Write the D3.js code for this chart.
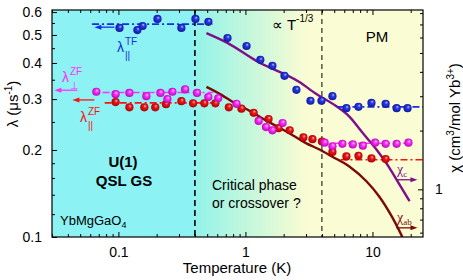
<!DOCTYPE html>
<html>
<head>
<meta charset="utf-8">
<script src="https://cdn.jsdelivr.net/npm/d3@7"></script>
<style>
  body { margin: 0; background: #fff; }
  svg { display: block; font-family: "Liberation Sans", Arial, sans-serif; }
</style>
</head>
<body>
<div id="chart"></div>
<script>
// data: [T (K), value]
let tfPar = [[0.102,0.529],[0.141,0.520],[0.155,0.537],[0.203,0.568],[0.313,0.529],[0.404,0.568],
	[0.511,0.555],[0.722,0.488],[1.02,0.458],[1.31,0.410],[1.63,0.391],[2.03,0.361],[2.52,0.323],
	[3.25,0.296],[3.97,0.296],[4.84,0.307],[6.24,0.279],[7.76,0.282],[9.82,0.291],[12.7,0.289],
	[15.5,0.279],[18.9,0.279]];
let zfPerp = [[0.067,0.318],[0.095,0.312],[0.122,0.315],[0.166,0.307],[0.214,0.315],[0.243,0.300],
	[0.266,0.318],[0.335,0.324],[0.416,0.315],[0.510,0.305],[0.610,0.302],[0.85,0.289],
	[1.27,0.252],[1.45,0.240],[1.63,0.234],[1.96,0.248],[4.2,0.212],[4.84,0.206],[5.8,0.210],
	[7.0,0.209],[8.4,0.207],[10.5,0.212],[12.7,0.210],[15.5,0.210],[19.2,0.212]];
let zfPar = [[0.095,0.293],[0.122,0.281],[0.160,0.281],[0.195,0.281],[0.237,0.288],[0.313,0.295],
	[0.387,0.290],[0.475,0.290],[0.580,0.290],[0.740,0.281],[0.93,0.278],[1.16,0.269],
	[1.52,0.256],[1.82,0.238],[2.23,0.234],[2.86,0.221],[3.37,0.218],[4.0,0.214],[4.84,0.197],
	[6.24,0.190],[7.76,0.191],[9.82,0.187],[12.7,0.186]];

// chi(T) curves, right axis
let chiC = [[0.493,6.32],[0.721,5.63],[1.22,4.55],[2.66,3.55],[3.62,3.08],[4.84,2.75],
	[6.58,2.36],[8.36,1.95],[10.75,1.60],[13.6,1.29],[16.3,1.06],[19.6,0.87]];
let chiAb = [[0.493,3.35],[0.647,3.05],[0.79,2.81],[1.075,2.53],[1.46,2.25],[2.10,1.98],[3.02,1.72],
	[3.83,1.60],[4.84,1.47],[6.58,1.31],[8.96,1.10],[11.3,0.92],[14.3,0.72],[17.2,0.57]];

// plateau guide lines: [T start, T end, lambda]
let tfLowLine = [0.062, 0.55, 0.545];
let tfHighLine = [5.3, 25, 0.282];
let perpLowLine = [0.075, 0.56, 0.316];
let perpHighLine = [4.9, 20.5, 0.211];
let parLowLine = [0.078, 0.56, 0.291];
let parHighLine = [5.6, 25, 0.185];

let boundaries = [0.4, 4];
let xMajor = [0.1, 1, 10];
let xMinor = [0.03,0.04,0.05,0.06,0.07,0.08,0.09,0.2,0.3,0.4,0.5,0.6,0.7,0.8,0.9,2,3,4,5,6,7,8,9,20];
let yMajor = [0.1, 0.2, 0.3, 0.4, 0.5, 0.6];
let yMinor = [0.12, 0.14, 0.16, 0.18, 0.25, 0.35, 0.45, 0.55];
let rMajor = [1];
let rMinor = [0.6,0.7,0.8,0.9,2,3,4,5,6,7,8];

let margin = { top: 10, right: 40, bottom: 43, left: 52 };
let width = 463 - margin.left - margin.right;
let height = 280 - margin.top - margin.bottom;

let svg = d3.select("#chart").append("svg")
	.attr("width", 463)
	.attr("height", 280);

let defs = svg.append("defs");

let x = d3.scaleLog().domain([0.03, 25]).range([0, width]);
let y = d3.scaleLog().domain([0.1, 0.61]).range([height, 0]);
let yR = d3.scaleLog().domain([0.57, 8.3]).range([height, 0]);

let g = svg.append("g").attr("transform", "translate(" + margin.left + "," + margin.top + ")");

defs.append("clipPath").attr("id", "clip")
	.append("rect").attr("width", width).attr("height", height);

// background: cyan ground state, gradient through the crossover, pale yellow PM
let grad = defs.append("linearGradient").attr("id", "bgGrad")
	.attr("gradientUnits", "userSpaceOnUse")
	.attr("x1", x(0.4)).attr("x2", x(3.0)).attr("y1", 0).attr("y2", 0);
grad.append("stop").attr("offset", 0).attr("stop-color", "#92f3ea");
grad.append("stop").attr("offset", 0.5).attr("stop-color", "#c6f7dc");
grad.append("stop").attr("offset", 1).attr("stop-color", "#fafcd3");

g.append("rect").attr("x", 0).attr("y", 0)
	.attr("width", x(0.4)).attr("height", height).attr("fill", "#8cf2f4");
g.append("rect").attr("x", x(0.4)).attr("y", 0)
	.attr("width", width - x(0.4)).attr("height", height).attr("fill", "url(#bgGrad)");

// sphere gradients
function ballGrad(id, light, mid, dark) {
	let rg = defs.append("radialGradient").attr("id", id)
		.attr("cx", 0.5).attr("cy", 0.5).attr("r", 0.55)
		.attr("fx", 0.62).attr("fy", 0.32);
	rg.append("stop").attr("offset", 0).attr("stop-color", light);
	rg.append("stop").attr("offset", 0.35).attr("stop-color", mid);
	rg.append("stop").attr("offset", 1).attr("stop-color", dark);
}
ballGrad("ballBlue", "#b8c0ff", "#2a3ae8", "#0b1490");
ballGrad("ballMag", "#ffd0ff", "#ff33ff", "#b000b0");
ballGrad("ballRed", "#ffc0c0", "#f01818", "#a00000");

let plot = g.append("g").attr("clip-path", "url(#clip)");

// vertical boundaries
plot.append("line")
	.attr("x1", x(boundaries[0])).attr("x2", x(boundaries[0]))
	.attr("y1", 0).attr("y2", height)
	.attr("stroke", "#000").attr("stroke-width", 1.6).attr("stroke-dasharray", "6,4");
plot.append("line")
	.attr("x1", x(boundaries[1])).attr("x2", x(boundaries[1]))
	.attr("y1", 0).attr("y2", height)
	.attr("stroke", "#000").attr("stroke-width", 1).attr("stroke-dasharray", "5,4");

// chi curves
let chiLine = d3.line().x(d => x(d[0])).y(d => yR(d[1])).curve(d3.curveMonotoneX);
plot.append("path").datum(chiAb)
	.attr("d", chiLine).attr("fill", "none")
	.attr("stroke", "#7a0a0a").attr("stroke-width", 2.4);
plot.append("path").datum(chiC)
	.attr("d", chiLine).attr("fill", "none")
	.attr("stroke", "#7d1088").attr("stroke-width", 2.4);

// plateau dash-dot lines
function plateau(p, color) {
	plot.append("line")
		.attr("x1", x(p[0])).attr("x2", x(p[1]))
		.attr("y1", y(p[2])).attr("y2", y(p[2]))
		.attr("stroke", color).attr("stroke-width", 1.6)
		.attr("stroke-dasharray", "7,3,2,3");
}
plateau(tfLowLine, "#1530e0");
plateau(tfHighLine, "#1530e0");
plateau(perpLowLine, "#ff30ff");
plateau(perpHighLine, "#ff30ff");
plateau(parLowLine, "#ff1010");
plateau(parHighLine, "#ff1010");

// points
function balls(data, id) {
	plot.append("g").selectAll("circle")
		.data(data)
		.enter()
		.append("circle")
		.attr("cx", d => x(d[0]))
		.attr("cy", d => y(d[1]))
		.attr("r", 4.1)
		.attr("fill", "url(#" + id + ")");
}
balls(zfPar, "ballRed");
balls(zfPerp, "ballMag");
balls(tfPar, "ballBlue");

// arrows showing which axis a series belongs to
function arrow(x1, x2, yy, color) {
	let dir = x2 > x1 ? 1 : -1;
	g.append("line")
		.attr("x1", x1).attr("x2", x2 - dir * 5)
		.attr("y1", yy).attr("y2", yy)
		.attr("stroke", color).attr("stroke-width", 1.3);
	g.append("path")
		.attr("d", "M" + x2 + "," + yy + "L" + (x2 - dir * 7) + "," + (yy - 2.5) + "L" + (x2 - dir * 7) + "," + (yy + 2.5) + "Z")
		.attr("fill", color);
}
arrow(x(0.093), x(0.0647), y(0.532), "#1530e0");
arrow(x(0.0474), x(0.0313), y(0.322), "#ff30ff");
arrow(x(0.0647), x(0.0434), y(0.298), "#ff1010");
arrow(x(15.4), x(22.6), yR(1.12), "#7d1088");
arrow(x(15.4), x(22.6), yR(0.635), "#7a0a0a");

// axes
g.append("rect").attr("width", width).attr("height", height)
	.attr("fill", "none").attr("stroke", "#000").attr("stroke-width", 1.2);

function tickAxis(axis, tr) {
	let a = g.append("g").attr("transform", tr).call(axis);
	a.select(".domain").remove();
	a.selectAll("line").attr("stroke", "#000").attr("stroke-width", 1);
	a.selectAll("text").attr("font-size", 14).attr("fill", "#000")
		.attr("font-family", "Liberation Sans, Arial, sans-serif");
	return a;
}
let fmt = d => d3.format("~g")(d);
tickAxis(d3.axisBottom(x).tickValues(xMajor).tickSizeInner(-5).tickPadding(10).tickFormat(fmt), "translate(0," + height + ")");
tickAxis(d3.axisBottom(x).tickValues(xMinor).tickSizeInner(-3).tickFormat(""), "translate(0," + height + ")");
tickAxis(d3.axisTop(x).tickValues(xMajor).tickSizeInner(-5).tickFormat(""), "translate(0,0)");
tickAxis(d3.axisTop(x).tickValues(xMinor).tickSizeInner(-3).tickFormat(""), "translate(0,0)");
tickAxis(d3.axisLeft(y).tickValues(yMajor).tickSizeInner(-5).tickPadding(10).tickFormat(fmt), "translate(0,0)");
tickAxis(d3.axisLeft(y).tickValues(yMinor).tickSizeInner(-3).tickFormat(""), "translate(0,0)");
tickAxis(d3.axisRight(yR).tickValues(rMajor).tickSizeInner(-5).tickPadding(12).tickFormat(fmt), "translate(" + width + ",0)");
tickAxis(d3.axisRight(yR).tickValues(rMinor).tickSizeInner(-3).tickFormat(""), "translate(" + width + ",0)");

// axis titles
svg.append("text")
	.attr("x", 237).attr("y", 273)
	.attr("text-anchor", "middle").attr("font-size", 15)
	.text("Temperature (K)");

let yl = svg.append("text")
	.attr("transform", "translate(18,104) rotate(-90)")
	.attr("text-anchor", "middle").attr("font-size", 15);
yl.append("tspan").text("λ (μs");
yl.append("tspan").attr("dy", -6).attr("font-size", 10).text("-1");
yl.append("tspan").attr("dy", 6).text(")");

let rl = svg.append("text")
	.attr("transform", "translate(460,118) rotate(-90)")
	.attr("text-anchor", "middle").attr("font-size", 15);
rl.append("tspan").text("χ (cm");
rl.append("tspan").attr("dy", -6).attr("font-size", 10).text("3");
rl.append("tspan").attr("dy", 6).text("/mol Yb");
rl.append("tspan").attr("dy", -6).attr("font-size", 10).text("3+");
rl.append("tspan").attr("dy", 6).text(")");

// series labels
function lamLabel(lx, ly, sup, sub, color) {
	svg.append("text").attr("x", lx).attr("y", ly)
		.attr("font-size", 14).attr("fill", color).text("λ");
	svg.append("text").attr("x", lx + 8).attr("y", ly - 7)
		.attr("font-size", 10).attr("fill", color).text(sup);
	svg.append("text").attr("x", lx + 8).attr("y", ly + 7)
		.attr("font-size", 10).attr("fill", color).text(sub);
}
lamLabel(117, 52, "TF", "||", "#1530e0");
lamLabel(62, 82, "ZF", "⊥", "#ff30ff");
lamLabel(80, 122, "ZF", "||", "#ff1010");

function chiLabel(lx, ly, sub, color) {
	let t = svg.append("text").attr("x", lx).attr("y", ly)
		.attr("font-family", "Liberation Serif, serif")
		.attr("font-size", 14).attr("fill", color);
	t.append("tspan").text("χ");
	t.append("tspan").attr("dy", 3).attr("font-size", 9).text(sub);
}
chiLabel(397, 174, "c", "#7d1088");
chiLabel(397, 222, "ab", "#7a0a0a");

// region annotations
let pl = svg.append("text").attr("x", 272).attr("y", 30).attr("font-size", 15);
pl.append("tspan").text("∝ T");
pl.append("tspan").attr("dy", -8).attr("font-size", 10).text("-1/3");

svg.append("text").attr("x", 377).attr("y", 42)
	.attr("text-anchor", "middle").attr("font-size", 15).text("PM");

svg.append("text").attr("x", 123).attr("y", 167)
	.attr("text-anchor", "middle").attr("font-size", 15).attr("font-weight", "bold").text("U(1)");
svg.append("text").attr("x", 124).attr("y", 186)
	.attr("text-anchor", "middle").attr("font-size", 15).attr("font-weight", "bold").text("QSL GS");

let yb = svg.append("text").attr("x", 60).attr("y", 225).attr("font-size", 13);
yb.append("tspan").text("YbMgGaO");
yb.append("tspan").attr("dy", 3).attr("font-size", 9).text("4");

svg.append("text").attr("x", 212).attr("y", 190).attr("font-size", 14).text("Critical phase");
svg.append("text").attr("x", 212).attr("y", 208).attr("font-size", 14).text("or crossover ?");
</script>
</body>
</html>
